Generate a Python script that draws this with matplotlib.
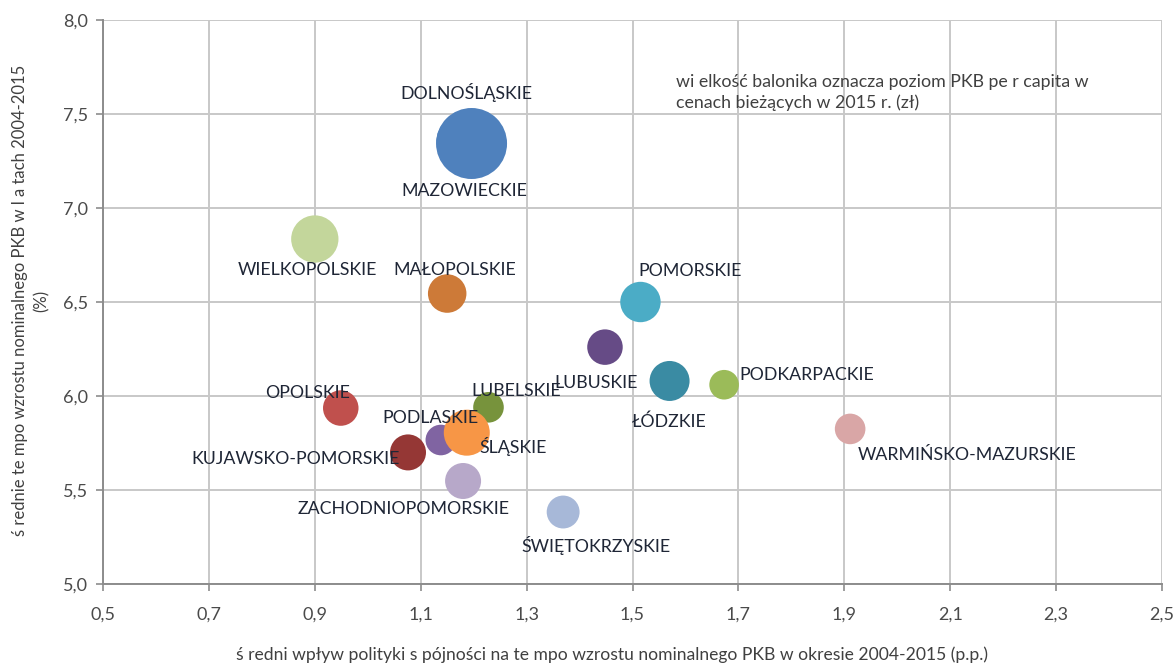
import matplotlib
matplotlib.use('Agg')
from matplotlib import pyplot as plt

plt.rcParams['font.family'] = ['Lato', 'DejaVu Sans']

# dane: województwa
regiony = ['DOLNOŚLĄSKIE', 'MAZOWIECKIE', 'WIELKOPOLSKIE', 'MAŁOPOLSKIE', 'POMORSKIE',
           'LUBUSKIE', 'ŁÓDZKIE', 'PODKARPACKIE', 'WARMIŃSKO-MAZURSKIE', 'OPOLSKIE',
           'LUBELSKIE', 'PODLASKIE', 'ŚLĄSKIE', 'KUJAWSKO-POMORSKIE',
           'ZACHODNIOPOMORSKIE', 'ŚWIĘTOKRZYSKIE']
wplyw = [1.178, 1.196, 0.900, 1.150, 1.515, 1.448, 1.570, 1.673, 1.911, 0.949,
         1.228, 1.138, 1.187, 1.076, 1.180, 1.369]
tempo = [7.356, 7.343, 6.835, 6.545, 6.500, 6.260, 6.080, 6.060, 5.825, 5.936,
         5.940, 5.766, 5.805, 5.700, 5.548, 5.383]
pkb = [51000, 71000, 47300, 38500, 40400, 35500, 40000, 29600, 30600, 35500,
       30600, 30600, 46000, 36000, 36000, 32900]

kolory = ['#4F81BD', '#4F81BD', '#C3D69B', '#CD7A38', '#4BACC6', '#664B86', '#3A8BA3',
          '#9BBB59', '#D9A6A6', '#C0504D', '#77933C', '#8064A2', '#F79646', '#953735',
          '#B7A8C9', '#A7B8D8']
# przesuniecia etykiet (piksele)
offs = [(4, 49), (-7, -47), (-7, -31), (8, 24), (50, 31), (-9, -36), (0, -41), (83, 10),
        (117, -26), (-33, 15), (28, 16), (-10, 22), (46, -14), (-112, -7), (-59, -28),
        (33, -33)]

fig = plt.figure(figsize=(11.76, 6.68), dpi=100)
ax = fig.add_axes([0.0876, 0.1257, 0.9005, 0.8444])

# promien balonika proporcjonalny do PKB (jak w Excelu)
rad = [v / 71000 * 35.5 for v in pkb]
sizes = [(2 * r * 0.72) ** 2 for r in rad]
ax.scatter(wplyw, tempo, s=sizes, c=kolory, linewidths=0, zorder=3)

for name, x, y, o in zip(regiony, wplyw, tempo, offs):
    ax.annotate(name, (x, y), xytext=o, textcoords='offset pixels', ha='center',
                va='center', fontsize=12.8, color='#1F2636', zorder=4)

ax.set_xlim(0.5, 2.5)
ax.set_ylim(5.0, 8.0)
xt = [0.5 + 0.2 * i for i in range(11)]
yt = [5.0 + 0.5 * i for i in range(7)]
ax.set_xticks(xt)
ax.set_yticks(yt)
ax.set_xticklabels([('%.1f' % v).replace('.', ',') for v in xt])
ax.set_yticklabels([('%.1f' % v).replace('.', ',') for v in yt])
ax.grid(True, color='#C8C8C8', linewidth=1.4, zorder=0)
ax.set_axisbelow(True)
for s in ['top', 'right']:
    ax.spines[s].set_visible(False)
for s in ['left', 'bottom']:
    ax.spines[s].set_color('#8C8C8C')
    ax.spines[s].set_linewidth(1.4)
ax.tick_params(axis='both', direction='out', length=5, color='#8C8C8C', width=1.2,
               labelsize=13, labelcolor='#4A4A4A')
ax.tick_params(axis='x', pad=11)
ax.tick_params(axis='y', pad=6)

ax.text(0.541, 0.905, 'wi elkość balonika oznacza poziom PKB pe r capita w\ncenach bieżących w 2015 r. (zł)',
        transform=ax.transAxes, fontsize=12.8, color='#404040', va='top', ha='left',
        linespacing=1.35)

fig.text(0.52, 0.008, 'ś redni wpływ polityki s pójności na te mpo wzrostu nominalnego PKB w okresie 2004-2015 (p.p.)',
         ha='center', va='bottom', fontsize=12.6, color='#404040')
fig.text(0.026, 0.55, 'ś rednie te mpo wzrostu nominalnego PKB w l a tach 2004-2015\n(%)',
         ha='center', va='center', rotation=90, fontsize=12, color='#404040',
         linespacing=1.45)

fig.savefig('out.png', dpi=100)
